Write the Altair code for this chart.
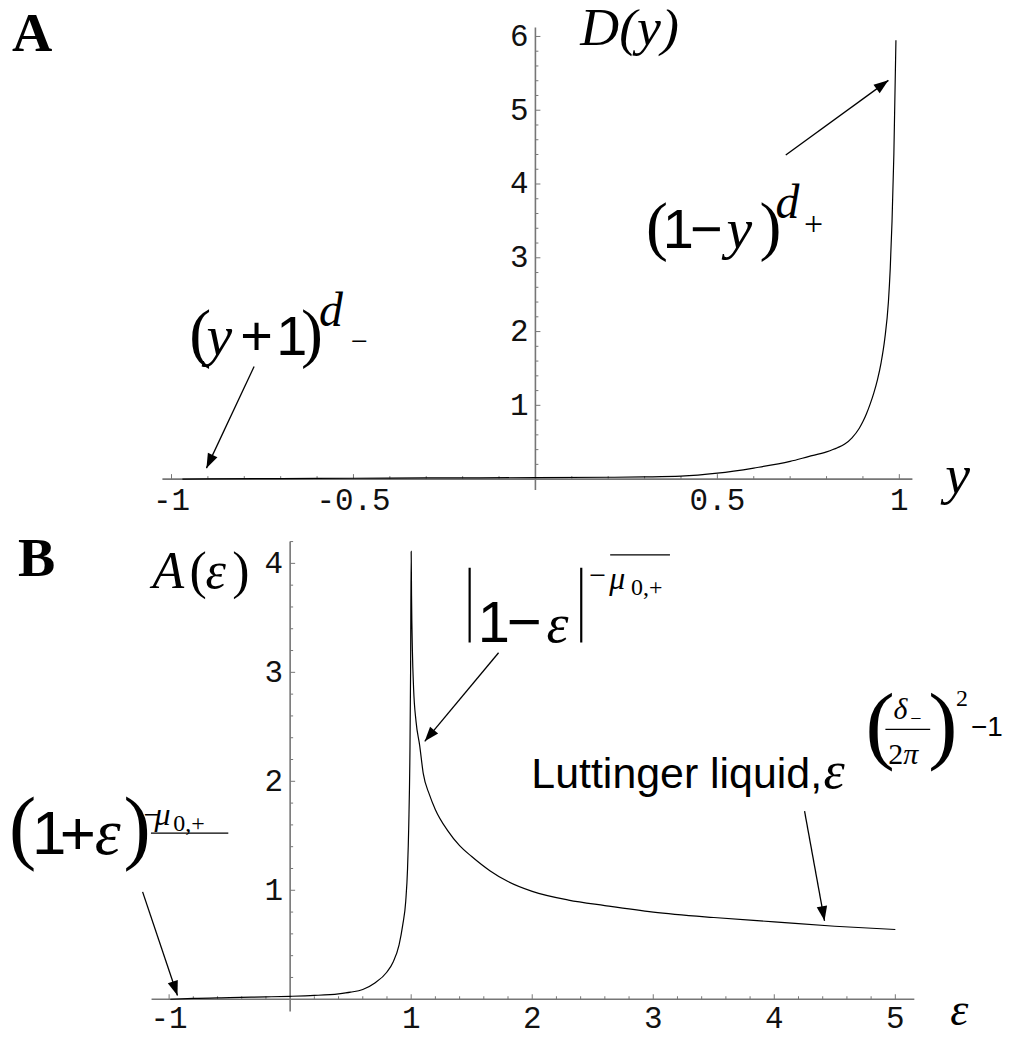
import math
import altair as alt
import pandas as pd

# ---------------- data ----------------
# Panel A : D(y)
A_y = [-0.97, -0.9, -0.7, -0.5, -0.3, 0.0, 0.2, 0.3, 0.4, 0.5, 0.6, 0.7, 0.75,
       0.8, 0.83, 0.85, 0.87, 0.89, 0.9, 0.91, 0.92, 0.93, 0.94, 0.95, 0.96,
       0.97, 0.975, 0.98, 0.985, 0.9907]
A_D = [0.0, 0.004, 0.008, 0.012, 0.016, 0.02, 0.025, 0.03, 0.04, 0.08, 0.15,
       0.24, 0.305, 0.37, 0.425, 0.475, 0.56, 0.69, 0.78, 0.89, 1.02, 1.17, 1.35,
       1.58, 1.9, 2.4, 2.85, 3.5, 4.4, 5.95]

# Panel B : A(eps)
B_eps = [-0.99, -0.8, -0.5, -0.2, 0.0, 0.2, 0.4, 0.5, 0.6, 0.7, 0.8, 0.85, 0.9,
         0.93, 0.955, 0.97, 0.98, 0.99, 0.995, 1.0, 1.003, 1.01, 1.02, 1.04,
         1.07, 1.1, 1.15, 1.2, 1.3, 1.4, 1.5, 1.65, 1.8, 2.0, 2.3, 2.6, 3.0,
         3.5, 4.0, 4.5, 5.0]
B_A = [0.0, 0.008, 0.015, 0.022, 0.027, 0.035, 0.05, 0.065, 0.09, 0.15, 0.25,
       0.34, 0.5, 0.68, 0.9, 1.2, 1.6, 2.3, 3.0, 4.11, 3.7, 3.2, 2.85, 2.55,
       2.33, 2.07, 1.88, 1.74, 1.55, 1.41, 1.31, 1.18, 1.08, 0.99, 0.91, 0.86,
       0.80, 0.75, 0.71, 0.67, 0.64]

# tick values and labels
A_x_major = [-1, -0.5, 0.5, 1]
A_x_labels = ["-1", "-0.5", "0.5", "1"]
A_y_major = [1, 2, 3, 4, 5, 6]
B_x_major = [-1, 1, 2, 3, 4, 5]
B_x_labels = ["-1", "1", "2", "3", "4", "5"]
B_y_major = [1, 2, 3, 4]

A_x_minor = [round(-1 + 0.1 * i, 2) for i in range(21)]
A_x_minor = [v for v in A_x_minor if v not in A_x_major and abs(v) > 1e-9]
A_y_minor = [round(0.2 * i, 2) for i in range(1, 31)]
A_y_minor = [v for v in A_y_minor if abs(v - round(v)) > 1e-9]
B_x_minor = [round(-1 + 0.2 * i, 2) for i in range(31)]
B_x_minor = [v for v in B_x_minor if v not in B_x_major and abs(v) > 1e-9]
B_y_minor = [round(0.2 * i, 2) for i in range(1, 22)]
B_y_minor = [v for v in B_y_minor if abs(v - round(v)) > 1e-9]

# ---------------- styling ----------------
SERIF = "Liberation Serif"
SANS = "Liberation Sans"
MONO = "Liberation Mono"
GRAY = "#767676"
W = 1000
TICK_FONT = 31

# panel geometry: domains and pixels per unit
A_XDOM = [-1.4493, 1.2904]
A_YDOM = [-0.6081, 6.3649]
A_H = 516
A_SX, A_SY = 365.0, 74.0
B_XDOM = [-2.3311, 5.9061]
B_YDOM = [-0.2681, 4.3614]
B_H = 506
B_SX, B_SY = 121.4, 109.3

# annotation text pieces: (x, y, text, family, size, style, weight)
A_TEXT = [
    (-1.438, 5.797, "A", SERIF, 56, "normal", "bold"),
    (0.1233, 5.878, "D(y)", SERIF, 54, "italic", "normal"),
    (1.126, -0.189, "y", SERIF, 56, "italic", "normal"),
    # (1 - y)^{d+}
    (0.304, 3.135, "(", SERIF, 66, "normal", "normal"),
    (0.350, 3.135, "1", SANS, 56, "normal", "normal"),
    (0.425, 3.135, "\u2212", SANS, 56, "normal", "normal"),
    (0.525, 3.135, "y", SERIF, 58, "italic", "normal"),
    (0.616, 3.135, ")", SERIF, 66, "normal", "normal"),
    (0.660, 3.541, "d", SERIF, 48, "italic", "normal"),
    (0.738, 3.311, "+", SERIF, 34, "normal", "normal"),
    # (y + 1)^{d-}
    (-0.951, 1.676, "(", SERIF, 66, "normal", "normal"),
    (-0.904, 1.676, "y", SERIF, 58, "italic", "normal"),
    (-0.811, 1.676, "+", SANS, 56, "normal", "normal"),
    (-0.712, 1.676, "1", SANS, 56, "normal", "normal"),
    (-0.644, 1.676, ")", SERIF, 66, "normal", "normal"),
    (-0.595, 2.081, "d", SERIF, 48, "italic", "normal"),
    (-0.507, 1.743, "\u2212", SERIF, 30, "normal", "normal"),
]
A_ARROWS = [
    (0.688, 4.392, 0.970, 5.405),
    (-0.773, 1.527, -0.904, 0.149),
]
A_RULES = []

B_TEXT = [
    (-2.249, 3.886, "B", SERIF, 56, "normal", "bold"),
    (-1.137, 3.776, "A", SERIF, 52, "italic", "normal"),
    (-0.832, 3.776, "(", SERIF, 52, "normal", "normal"),
    (-0.700, 3.776, "\u03b5", SERIF, 52, "italic", "normal"),
    (-0.478, 3.776, ")", SERIF, 52, "normal", "normal"),
    (5.453, -0.2406, "\u03b5", SERIF, 46, "italic", "normal"),
    # |1 - eps|^{-mu}
    (1.550, 3.282, "1", SANS, 58, "normal", "normal"),
    (1.790, 3.282, "\u2212", SANS, 60, "normal", "normal"),
    (2.117, 3.282, "\u03b5", SERIF, 56, "italic", "normal"),
    (2.471, 3.803, "\u2212", SERIF, 30, "normal", "normal"),
    (2.636, 3.767, "\u03bc", SERIF, 32, "italic", "normal"),
    (2.817, 3.712, "0,+", SERIF, 24, "normal", "normal"),
    # Luttinger liquid
    (1.993, 1.937, "Luttinger liquid,", SANS, 43, "normal", "normal"),
    (4.407, 1.937, "\u03b5", SERIF, 54, "italic", "normal"),
    (4.753, 2.257, "(", SERIF, 88, "normal", "normal"),
    (4.984, 2.568, "\u03b4", SERIF, 30, "italic", "normal"),
    (5.124, 2.513, "\u2212", SERIF, 20, "normal", "normal"),
    (4.942, 2.156, "2", SERIF, 30, "normal", "normal"),
    (5.066, 2.156, "\u03c0", SERIF, 30, "italic", "normal"),
    (5.272, 2.257, ")", SERIF, 88, "normal", "normal"),
    (5.502, 2.687, "2", SERIF, 24, "normal", "normal"),
    (5.625, 2.413, "\u22121", SANS, 28, "normal", "normal"),
    # (1 + eps)^{-mu}
    (-2.323, 1.333, "(", SERIF, 82, "normal", "normal"),
    (-2.133, 1.333, "1", SANS, 62, "normal", "normal"),
    (-1.903, 1.333, "+", SANS, 62, "normal", "normal"),
    (-1.614, 1.333, "\u03b5", SERIF, 66, "italic", "normal"),
    (-1.376, 1.333, ")", SERIF, 82, "normal", "normal"),
    (-1.210, 1.608, "\u2212", SERIF, 28, "normal", "normal"),
    (-1.120, 1.599, "\u03bc", SERIF, 32, "italic", "normal"),
    (-0.965, 1.543, "0,+", SERIF, 24, "normal", "normal"),
]
B_ARROWS = [
    (1.722, 3.180, 1.112, 2.367),
    (4.250, 1.727, 4.415, 0.720),
    (-1.219, 0.985, -0.931, 0.034),
]
# straight strokes (abs bars, fraction bar, over/underline): x, x2, y, y2, width
B_RULES = [
    (1.483, 1.483, 3.959, 3.273, 2.2),
    (2.405, 2.405, 3.959, 3.273, 2.2),
    (2.644, 3.138, 4.078, 4.078, 1.2),
    (4.918, 5.288, 2.477, 2.477, 1.2),
    (-1.150, -0.511, 1.525, 1.525, 1.2),
]

HEAD = "M0,0L-0.36,1L0.36,1Z"


def panel(xdom, ydom, H, sx, sy, cx, cy, ax_ext, ay_ext, xmaj, xlab, xmin,
          ymaj, ymin, texts, arrows, rules, xlab_dy, ylab_dy):
    xs = alt.Scale(domain=xdom, nice=False, zero=False)
    ys = alt.Scale(domain=ydom, nice=False, zero=False)

    def X(f):
        return alt.X(f, type="quantitative", scale=xs, axis=None)

    def Y(f):
        return alt.Y(f, type="quantitative", scale=ys, axis=None)

    layers = []
    axes = pd.DataFrame([
        {"x": ax_ext[0], "x2": ax_ext[1], "y": 0, "y2": 0},
        {"x": 0, "x2": 0, "y": ay_ext[0], "y2": ay_ext[1]},
    ])
    layers.append(alt.Chart(axes).mark_rule(color=GRAY, strokeWidth=1.6).encode(
        x=X("x"), x2="x2", y=Y("y"), y2="y2"))

    xt_maj = pd.DataFrame({"x": xmaj, "z": 0, "t": xlab})
    xt_min = pd.DataFrame({"x": xmin, "z": 0})
    yt_maj = pd.DataFrame({"y": ymaj, "z": 0, "t": [str(v) for v in ymaj]})
    yt_min = pd.DataFrame({"y": ymin, "z": 0})
    layers.append(alt.Chart(xt_maj).mark_rule(color=GRAY, strokeWidth=1, y2Offset=-5).encode(
        x=X("x"), y=Y("z"), y2="z"))
    layers.append(alt.Chart(xt_min).mark_rule(color=GRAY, strokeWidth=1, y2Offset=-3).encode(
        x=X("x"), y=Y("z"), y2="z"))
    layers.append(alt.Chart(yt_maj).mark_rule(color=GRAY, strokeWidth=1, x2Offset=5).encode(
        y=Y("y"), x=X("z"), x2="z"))
    layers.append(alt.Chart(yt_min).mark_rule(color=GRAY, strokeWidth=1, x2Offset=3).encode(
        y=Y("y"), x=X("z"), x2="z"))
    layers.append(alt.Chart(xt_maj).mark_text(
        font=MONO, fontSize=TICK_FONT, align="center", baseline="alphabetic",
        dy=xlab_dy, color="#111111", clip=True).encode(x=X("x"), y=Y("z"), text="t:N"))
    layers.append(alt.Chart(yt_maj).mark_text(
        font=MONO, fontSize=TICK_FONT, align="right", baseline="alphabetic",
        dx=-7, dy=ylab_dy, color="#111111", clip=True).encode(x=X("z"), y=Y("y"), text="t:N"))

    curve = pd.DataFrame({"x": cx, "y": cy})
    layers.append(alt.Chart(curve).mark_line(
        color="black", strokeWidth=1.2, interpolate="monotone", clip=True).encode(
        x=X("x"), y=Y("y"), order="x:Q"))

    for (x, y, t, fam, size, style, weight) in texts:
        d = pd.DataFrame([{"x": x, "y": y, "t": t}])
        layers.append(alt.Chart(d).mark_text(
            font=fam, fontSize=size, fontStyle=style, fontWeight=weight,
            align="left", baseline="alphabetic", color="black", clip=True).encode(
            x=X("x"), y=Y("y"), text="t:N"))

    for (x1, x2, y1, y2, sw) in rules:
        d = pd.DataFrame([{"x": x1, "x2": x2, "y": y1, "y2": y2}])
        layers.append(alt.Chart(d).mark_rule(color="black", strokeWidth=sw, clip=True).encode(
            x=X("x"), x2="x2", y=Y("y"), y2="y2"))

    rows = []
    for (x1, y1, x2, y2) in arrows:
        ang = math.degrees(math.atan2((x2 - x1) * sx, (y2 - y1) * sy)) % 360
        rows.append({"x": x1, "y": y1, "x2": x2, "y2": y2, "ang": ang})
    ad = pd.DataFrame(rows)
    layers.append(alt.Chart(ad).mark_rule(color="black", strokeWidth=1.3, clip=True).encode(
        x=X("x"), x2="x2", y=Y("y"), y2="y2"))
    layers.append(alt.Chart(ad).mark_point(
        shape=HEAD, filled=True, size=860, color="black", opacity=1, strokeWidth=0,
        clip=True).encode(x=X("x2"), y=Y("y2"), angle=alt.Angle("ang:Q", scale=None)))

    return alt.layer(*layers).properties(width=W, height=H)


panelA = panel(A_XDOM, A_YDOM, A_H, A_SX, A_SY, A_y, A_D,
               (-1.025, 1.036), (-0.149, 6.12),
               A_x_major, A_x_labels, A_x_minor, A_y_major, A_y_minor,
               A_TEXT, A_ARROWS, A_RULES, 31, 9.5)
panelB = panel(B_XDOM, B_YDOM, B_H, B_SX, B_SY, B_eps, B_A,
               (-1.145, 5.157), (-0.1125, 4.2),
               B_x_major, B_x_labels, B_x_minor, B_y_major, B_y_minor,
               B_TEXT, B_ARROWS, B_RULES, 29, 10)

chart = alt.vconcat(panelA, panelB, spacing=0).properties(
    padding=0
).configure_view(stroke=None).configure_concat(spacing=0)

chart.save("out.html", embed_options={"renderer": "svg", "actions": False})
